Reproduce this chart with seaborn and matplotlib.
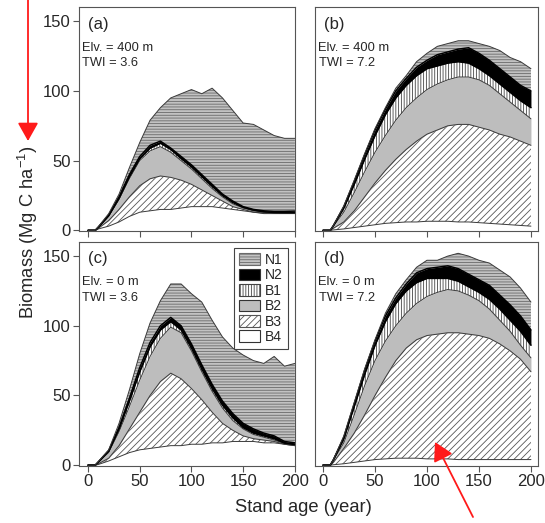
import matplotlib
matplotlib.use("Agg")
import matplotlib.pyplot as plt
import matplotlib.patches as mpatches
import seaborn as sns

ages = [0, 7, 10, 20, 30, 40, 50, 60, 70, 80, 90, 100, 110, 120, 130, 140, 150, 160, 170, 180, 190, 200]

# cumulative tops of each layer (Mg C / ha), bottom to top: B4, B3, B2, B1, N2, N1
# (a) Elv 400 m, TWI 3.6
a_b4 = [0, 0, 1, 3, 6, 10, 13, 14, 15, 15, 16, 17, 17, 17, 16, 15, 14, 13, 12, 12, 12, 12]
a_b3 = [0, 0, 1.5, 7, 15, 24, 32, 37, 39, 38, 36, 33, 29, 25, 21, 17, 15, 13, 12.5, 12.3, 12.2, 12.2]
a_b2 = [0, 0, 2, 10, 22, 37, 50, 57, 60, 56, 50, 44, 37, 30, 24, 19, 16, 14, 13, 12.5, 12.4, 12.4]
a_b1 = [0, 0, 2.2, 10.5, 23, 38.5, 51.5, 59, 62.5, 58, 51.5, 45.5, 38.5, 31.5, 25, 20, 16.5, 14.5, 13.3, 12.8, 12.7, 12.7]
a_n2 = [0, 0, 2.4, 11, 24, 40, 53, 61, 64, 59, 53, 47, 40, 33, 26, 21, 17, 15, 14, 13.6, 13.6, 13.8]
a_n1 = [0, 0, 2.6, 12, 26, 45, 63, 79, 88, 95, 98, 101, 98, 102, 95, 86, 77, 76, 72, 68, 66, 66]

# (b) Elv 400 m, TWI 7.2
b_b4 = [0, 0, 0.3, 1, 2, 3, 4, 5, 5.5, 6, 6, 6.5, 6.5, 6.5, 6, 6, 5.5, 5, 4.5, 4, 3.5, 3]
b_b3 = [0, 0, 1.5, 6, 14, 24, 34, 43, 51, 58, 64, 69, 72, 75, 76, 76, 74, 72, 69, 67, 64, 61]
b_b2 = [0, 0, 3, 13, 27, 42, 56, 68, 79, 88, 95, 101, 105, 108, 110, 110, 108, 104, 98, 92, 86, 80]
b_b1 = [0, 0, 3.3, 16, 33, 51, 68, 83, 95, 104, 111, 116, 118, 120, 121, 120, 116, 111, 105, 99, 93, 88]
b_n2 = [0, 0, 3.4, 17, 35, 54, 72, 87, 100, 109, 117, 122, 126, 128, 130, 131, 127, 122, 116, 110, 104, 100]
b_n1 = [0, 0, 3.5, 17.5, 36, 55, 73, 88, 102, 111, 121, 127, 132, 134, 136, 136, 134, 132, 129, 124, 121, 116]

# (c) Elv 0 m, TWI 3.6
c_b4 = [0, 0, 0.5, 3, 6, 9, 11, 12, 13, 14, 14, 15, 15, 16, 16, 17, 17, 17, 16, 16, 15, 14]
c_b3 = [0, 0, 1, 5, 14, 26, 38, 50, 60, 66, 62, 55, 47, 38, 30, 25, 21, 19, 18, 17, 15, 14]
c_b2 = [0, 0, 2, 9, 24, 42, 61, 78, 91, 99, 95, 82, 67, 53, 41, 32, 26, 22, 20, 18, 15.5, 14.5]
c_b1 = [0, 0, 2.2, 10, 26, 46, 67, 85, 97, 103, 97, 84, 69, 55, 43, 34, 27, 23, 21, 19, 15.8, 14.8]
c_n2 = [0, 0, 2.4, 10.5, 27, 48, 70, 88, 100, 106, 100, 87, 72, 58, 46, 37, 30, 26, 23, 21, 17, 16]
c_n1 = [0, 0, 2.6, 11, 30, 54, 80, 102, 118, 130, 130, 123, 117, 104, 92, 84, 79, 75, 73, 78, 71, 73]

# (d) Elv 0 m, TWI 7.2
d_b4 = [0, 0, 0.3, 1, 2, 3, 4, 4.5, 5, 5, 5, 4.5, 4.5, 4.5, 4, 4, 4, 4, 4, 4, 4, 4]
d_b3 = [0, 0, 2, 12, 23, 36, 50, 63, 75, 84, 90, 93, 94, 95, 95, 94, 93, 91, 87, 82, 76, 67]
d_b2 = [0, 0, 3.5, 16, 36, 57, 75, 89, 100, 109, 116, 121, 124, 126, 125, 122, 118, 112, 104, 96, 86, 77]
d_b1 = [0, 0, 3.8, 19, 42, 65, 86, 103, 116, 125, 131, 134, 134, 134, 132, 128, 124, 119, 112, 104, 96, 86]
d_n2 = [0, 0, 3.9, 20, 44, 68, 89, 107, 120, 130, 138, 141, 142, 143, 141, 137, 133, 129, 122, 115, 107, 97]
d_n1 = [0, 0, 4, 21, 45, 69, 90, 109, 123, 133, 142, 147, 147, 150, 152, 150, 147, 145, 140, 135, 127, 117]

panel_tags = ["(a)", "(b)", "(c)", "(d)"]
elevations = ["Elv. = 400 m", "Elv. = 400 m", "Elv. = 0 m", "Elv. = 0 m"]
twi_labels = ["TWI = 3.6", "TWI = 7.2", "TWI = 3.6", "TWI = 7.2"]
layer_names = ["B4", "B3", "B2", "B1", "N2", "N1"]

panels = [
    [a_b4, a_b3, a_b2, a_b1, a_n2, a_n1],
    [b_b4, b_b3, b_b2, b_b1, b_n2, b_n1],
    [c_b4, c_b3, c_b2, c_b1, c_n2, c_n1],
    [d_b4, d_b3, d_b2, d_b1, d_n2, d_n1],
]

# fill style per layer: facecolor, hatch, hatch colour
styles = {
    "B4": ("white", None, "#555555"),
    "B3": ("white", "/////", "#555555"),
    "B2": ("#bdbdbd", None, "#555555"),
    "B1": ("white", "||||||", "#444444"),
    "N2": ("black", None, "black"),
    "N1": ("#c2c2c2", "------", "#6a6a6a"),
}

sns.set_style("ticks")
plt.rcParams["font.family"] = ["Liberation Sans", "DejaVu Sans"]
plt.rcParams["mathtext.default"] = "regular"
plt.rcParams["hatch.linewidth"] = 0.6

fig = plt.figure(figsize=(5.45, 5.23), dpi=100)
positions = [
    [0.145, 0.558, 0.396, 0.428],
    [0.578, 0.558, 0.409, 0.428],
    [0.145, 0.109, 0.396, 0.428],
    [0.578, 0.109, 0.409, 0.428],
]
xlims = [(-8.7, 200), (-7.7, 206.7), (-8.7, 200), (-7.7, 206.7)]

for i, layers in enumerate(panels):
    ax = fig.add_axes(positions[i])
    lower = [0] * len(ages)
    for name, top in zip(layer_names, layers):
        fc, hatch, hc = styles[name]
        ax.fill_between(ages, lower, top, facecolor=fc, hatch=hatch,
                        edgecolor=hc, linewidth=0)
        lower = top
    for name, top in zip(layer_names, layers):
        heavy = name in ("B1", "N2")
        sns.lineplot(x=ages, y=top, ax=ax, color="black" if heavy else "#3a3a3a",
                     linewidth=1.1 if heavy else 0.7, legend=False)

    ax.set_xlim(*xlims[i])
    ax.set_ylim(-0.6, 160)
    ax.set_xticks([0, 50, 100, 150, 200])
    ax.set_yticks([0, 50, 100, 150])
    for s in ax.spines.values():
        s.set_color("#555555")
        s.set_linewidth(0.8)
    ax.tick_params(direction="out", length=4, width=0.8, color="#555555",
                   labelsize=12, pad=2)
    if i < 2:
        ax.tick_params(labelbottom=False)
    if i % 2 == 1:
        ax.tick_params(left=False, labelleft=False)

    ax.text(0.04, 0.925, panel_tags[i], transform=ax.transAxes, fontsize=12,
            va="center", ha="left")
    ax.text(0.012, 0.82, elevations[i], transform=ax.transAxes, fontsize=9.3,
            va="center", ha="left")
    ax.text(0.016, 0.75, twi_labels[i], transform=ax.transAxes, fontsize=9.3,
            va="center", ha="left")

    if i == 2:
        handles = []
        for name in layer_names[::-1]:
            fc, hatch, hc = styles[name]
            handles.append(mpatches.Patch(facecolor=fc, hatch=hatch,
                                          edgecolor="#333333" if hatch is None else hc,
                                          linewidth=0.8, label=name))
        leg = ax.legend(handles=handles, loc="upper right",
                        bbox_to_anchor=(0.968, 0.973), borderaxespad=0,
                        fontsize=10, frameon=True, fancybox=False, framealpha=1,
                        edgecolor="#444444", borderpad=0.35, labelspacing=0.1,
                        handlelength=1.5, handleheight=0.9, handletextpad=0.4)
        leg.get_frame().set_linewidth(0.8)

fig.text(0.051, 0.556, "Biomass (Mg C ha$^{-1}$)", rotation=90, fontsize=13.2,
         va="center", ha="center")
fig.text(0.556, 0.029, "Stand age (year)", fontsize=13.2, va="center", ha="center")

# red annotation arrows
for tail, tip in [((28, 523), (28, 382)), ((473, 6), (435, 81))]:
    arrow = mpatches.FancyArrowPatch(
        (tail[0] / 545, tail[1] / 523), (tip[0] / 545, tip[1] / 523),
        transform=fig.transFigure, arrowstyle="-|>,head_length=0.8,head_width=0.45",
        mutation_scale=14, color="#ff1a1a", linewidth=1.3, shrinkA=0, shrinkB=0)
    fig.add_artist(arrow)

fig.savefig("out.png", dpi=100)
